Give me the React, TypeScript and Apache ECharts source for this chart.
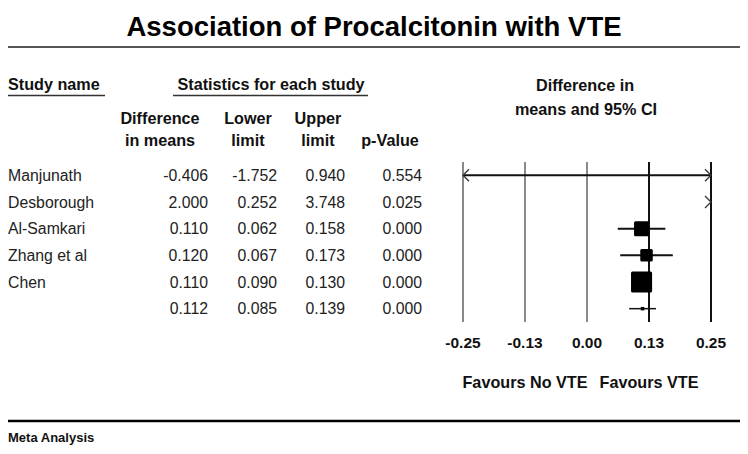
import React, { useEffect, useRef } from "react";
import * as echarts from "echarts";

// ---- Data ----
const studies = ["Manjunath", "Desborough", "Al-Samkari", "Zhang et al", "Chen", ""];
const diffMeans = [-0.406, 2.0, 0.11, 0.12, 0.11, 0.112];
const lowerLimits = [-1.752, 0.252, 0.062, 0.067, 0.09, 0.085];
const upperLimits = [0.94, 3.748, 0.158, 0.173, 0.13, 0.139];
const pValues = [0.554, 0.025, 0.0, 0.0, 0.0, 0.0];
// relative weights (%) of the individual studies; summary row has none
const relWeights: (number | null)[] = [0.5, 0.7, 26, 18, 51, null];
const axisTicks = [-0.25, -0.125, 0, 0.125, 0.25];

const AXIS_MIN = axisTicks[0];
const AXIS_MAX = axisTicks[axisTicks.length - 1];
const FONT = "'Liberation Sans', Arial, sans-serif";

const fmt3 = (v: number) => v.toFixed(3);

export default function App() {
  const ref = useRef<HTMLDivElement>(null);

  useEffect(() => {
    document.body.style.margin = "0";
    if (!ref.current) return;
    const chart = echarts.init(ref.current, null, { renderer: "svg" });

    const GRID_LEFT = 463;
    const GRID_WIDTH = 248;

    const columnAxis = (labels: string[], rightEdge: number, alignLeft = false) => ({
      type: "category",
      gridIndex: 0,
      position: "left",
      inverse: true,
      data: labels,
      offset: GRID_LEFT - rightEdge,
      axisLine: { show: false },
      axisTick: { show: false },
      splitLine: { show: false },
      axisLabel: {
        interval: 0,
        margin: 0,
        align: alignLeft ? "left" : "right",
        fontFamily: FONT,
        fontSize: 15.8,
        color: "#222",
      },
    });

    const seriesData = studies.map((_, i) => [
      diffMeans[i],
      lowerLimits[i],
      upperLimits[i],
      relWeights[i] == null ? -1 : relWeights[i],
      i,
    ]);

    const headerText = (text: string, x: number, y: number, align = "center") => ({
      type: "text",
      x,
      y,
      style: {
        text,
        fontFamily: FONT,
        fontSize: 16.2,
        fontWeight: "bold",
        fill: "#111",
        textAlign: align,
        textVerticalAlign: "middle",
      },
    });

    const hLine = (x1: number, x2: number, y: number, color: string, w: number) => ({
      type: "line",
      shape: { x1, y1: y, x2, y2: y },
      style: { stroke: color, lineWidth: w },
    });

    const option: any = {
      animation: false,
      backgroundColor: "#fff",
      title: {
        text: "Association of Procalcitonin with VTE",
        left: "center",
        top: 7,
        textStyle: { fontFamily: FONT, fontSize: 27.5, fontWeight: "bold", color: "#000" },
      },
      grid: { left: GRID_LEFT, width: GRID_WIDTH, top: 162, height: 160 },
      xAxis: {
        type: "value",
        min: AXIS_MIN,
        max: AXIS_MAX,
        interval: axisTicks[1] - axisTicks[0],
        axisLine: { show: false },
        axisTick: { show: false },
        axisLabel: {
          margin: 12,
          fontFamily: FONT,
          fontSize: 15.5,
          fontWeight: "bold",
          color: "#111",
          formatter: (v: number) => v.toFixed(2),
        },
        splitLine: {
          show: true,
          lineStyle: { color: ["#8a8a8a", "#8a8a8a", "#8a8a8a", "#111", "#111"], width: 2 },
        },
      },
      yAxis: [
        {
          type: "category",
          inverse: true,
          data: studies.map((s, i) => s || "Summary" + i),
          show: false,
        },
        columnAxis(studies, 8, true),
        columnAxis(diffMeans.map(fmt3), 208),
        columnAxis(lowerLimits.map(fmt3), 277),
        columnAxis(upperLimits.map(fmt3), 345),
        columnAxis(pValues.map(fmt3), 422),
      ],
      series: [
        {
          type: "custom",
          xAxisIndex: 0,
          yAxisIndex: 0,
          encode: { x: 0, y: 4 },
          data: seriesData,
          renderItem: (params: any, api: any) => {
            const mean = api.value(0);
            const lo = api.value(1);
            const hi = api.value(2);
            const w = api.value(3);
            const row = api.value(4);
            const y = api.coord([0, row])[1];
            const px = (v: number) => api.coord([v, row])[0];
            const children: any[] = [];
            const cl = Math.max(lo, AXIS_MIN);
            const ch = Math.min(hi, AXIS_MAX);
            const isSummary = w < 0;
            if (cl < ch) {
              children.push({
                type: "line",
                shape: { x1: px(cl), y1: y, x2: px(ch), y2: y },
                style: { stroke: "#111", lineWidth: isSummary ? 1.5 : 2 },
              });
            }
            if (lo < AXIS_MIN) {
              const x0 = px(AXIS_MIN);
              children.push({
                type: "polyline",
                shape: { points: [[x0 + 6, y - 6], [x0, y], [x0 + 6, y + 6]] },
                style: { stroke: "#333", lineWidth: 1.3, fill: null },
              });
            }
            if (hi > AXIS_MAX) {
              const x0 = px(AXIS_MAX);
              children.push({
                type: "polyline",
                shape: { points: [[x0 - 6, y - 6], [x0, y], [x0 - 6, y + 6]] },
                style: { stroke: "#333", lineWidth: 1.3, fill: null },
              });
            }
            if (mean >= AXIS_MIN && mean <= AXIS_MAX) {
              const side = isSummary ? 3.5 : Math.sqrt(w) * 2.95;
              const cx = px(mean);
              children.push({
                type: "rect",
                shape: { x: cx - side / 2, y: y - side / 2, width: side, height: side, r: isSummary ? 0 : 1.5 },
                style: { fill: "#000" },
              });
            }
            return { type: "group", children };
          },
        },
      ],
      graphic: [
        hLine(8, 740, 47, "#555", 2),
        headerText("Study name", 8, 84, "left"),
        hLine(8, 105, 95.5, "#333", 1.5),
        headerText("Statistics for each study", 271, 84),
        hLine(173, 368, 95.5, "#333", 1.5),
        headerText("Difference", 160, 118),
        headerText("in means", 160, 140),
        headerText("Lower", 248, 118),
        headerText("limit", 248, 140),
        headerText("Upper", 318, 118),
        headerText("limit", 318, 140),
        headerText("p-Value", 390, 140),
        headerText("Difference in", 585, 85),
        headerText("means and 95% CI", 586, 109),
        headerText("Favours No VTE", 525, 382),
        headerText("Favours VTE", 649, 382),
        hLine(8, 740, 421, "#000", 2.5),
        {
          type: "text",
          x: 8,
          y: 437,
          style: {
            text: "Meta Analysis",
            fontFamily: FONT,
            fontSize: 13,
            fontWeight: "bold",
            fill: "#111",
            textAlign: "left",
            textVerticalAlign: "middle",
          },
        },
      ],
    };

    chart.setOption(option);
    return () => chart.dispose();
  }, []);

  return <div ref={ref} style={{ width: 748, height: 454 }} />;
}
